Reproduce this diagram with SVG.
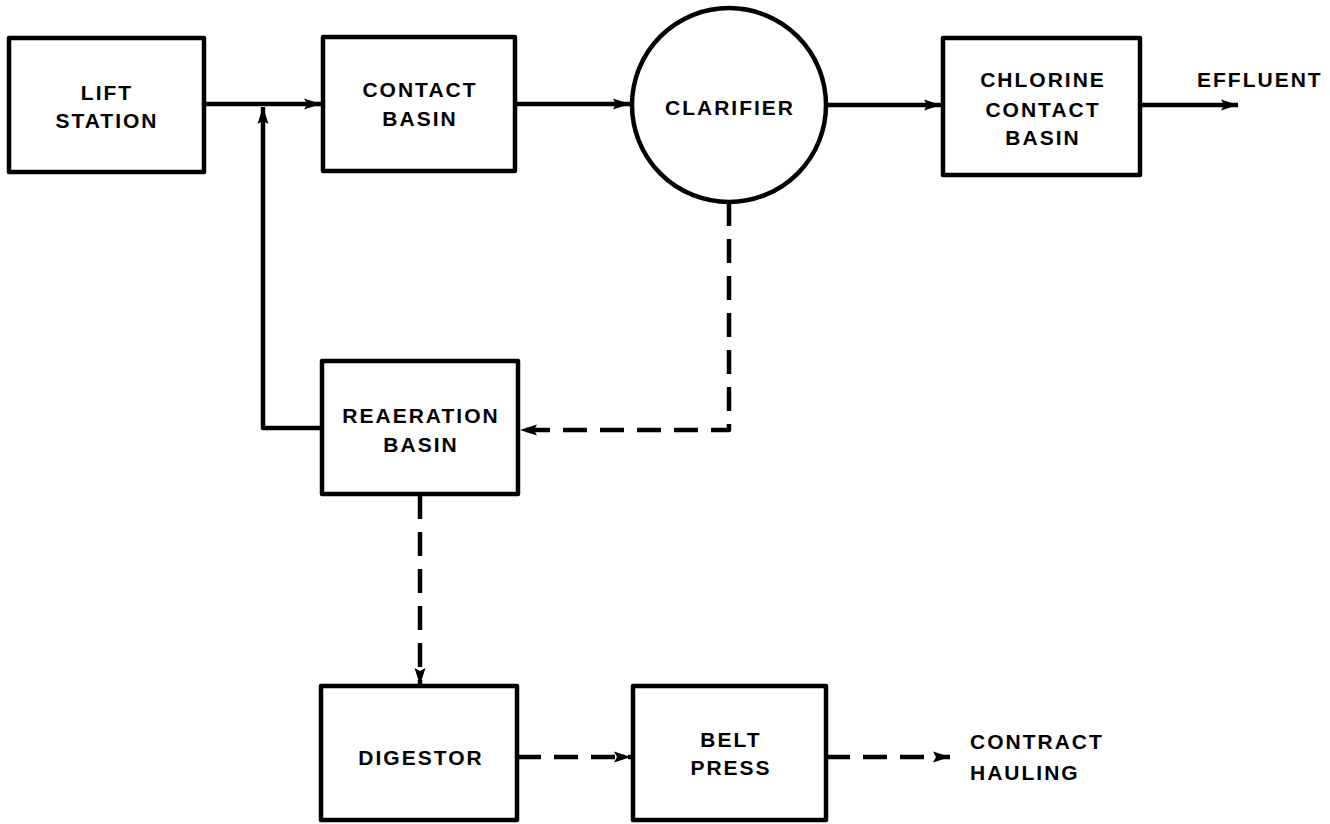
<svg xmlns="http://www.w3.org/2000/svg" width="1330" height="824" viewBox="0 0 1330 824">
<style>
.box{fill:#fff;stroke:#000;stroke-width:4.5;stroke-linejoin:round}
.lbl{font-family:"Liberation Sans",Arial,sans-serif;font-weight:bold;font-size:21px;letter-spacing:2px;fill:#000}
.c{text-anchor:middle}
.ln{fill:none;stroke:#000;stroke-width:4.5;stroke-linejoin:round}
.dash{stroke-dasharray:24 13}
</style>
<defs>
<marker id="ah" markerUnits="userSpaceOnUse" markerWidth="18" markerHeight="12" refX="17" refY="6" orient="auto">
<path d="M0,0.5 L17,6 L0,11.5 L3,6 z" fill="#000"/>
</marker>
</defs>
<rect width="1330" height="824" fill="#fff"/>
<g id="connectors">
<line class="ln" x1="204" y1="104" x2="321" y2="104" marker-end="url(#ah)"/>
<line class="ln" x1="515" y1="104" x2="630" y2="104" marker-end="url(#ah)"/>
<line class="ln" x1="826" y1="105" x2="941" y2="105" marker-end="url(#ah)"/>
<line class="ln" x1="1140" y1="105" x2="1238" y2="105" marker-end="url(#ah)"/>
<path class="ln" d="M322,428 H263 V107" marker-end="url(#ah)"/>
<path class="ln dash" d="M729,202 V430 H520" marker-end="url(#ah)"/>
<path class="ln dash" d="M420,495 V685" marker-end="url(#ah)"/>
<path class="ln dash" d="M517,757 H631" marker-end="url(#ah)"/>
<path class="ln dash" d="M826,757 H950" marker-end="url(#ah)"/>
</g>
<g id="lift-station">
<rect class="box" x="9" y="38" width="195" height="134"/>
<text class="lbl c" x="107" y="100">LIFT</text>
<text class="lbl c" x="107" y="128">STATION</text>
</g>
<g id="contact-basin">
<rect class="box" x="323" y="37" width="192" height="134"/>
<text class="lbl c" x="420" y="97">CONTACT</text>
<text class="lbl c" x="420" y="126">BASIN</text>
</g>
<g id="clarifier">
<circle class="box" cx="729" cy="105" r="97"/>
<text class="lbl c" x="730" y="115">CLARIFIER</text>
</g>
<g id="chlorine-contact-basin">
<rect class="box" x="943" y="38" width="197" height="137"/>
<text class="lbl c" x="1043" y="87">CHLORINE</text>
<text class="lbl c" x="1043" y="117">CONTACT</text>
<text class="lbl c" x="1043" y="145">BASIN</text>
</g>
<g id="effluent">
<text class="lbl" x="1197" y="87">EFFLUENT</text>
</g>
<g id="reaeration-basin">
<rect class="box" x="322" y="361" width="196" height="133"/>
<text class="lbl c" x="421" y="423">REAERATION</text>
<text class="lbl c" x="421" y="452">BASIN</text>
</g>
<g id="digestor">
<rect class="box" x="321" y="686" width="196" height="134"/>
<text class="lbl c" x="421" y="765">DIGESTOR</text>
</g>
<g id="belt-press">
<rect class="box" x="633" y="686" width="193" height="134"/>
<text class="lbl c" x="731" y="747">BELT</text>
<text class="lbl c" x="731" y="775">PRESS</text>
</g>
<g id="contract-hauling">
<text class="lbl" x="970" y="749">CONTRACT</text>
<text class="lbl" x="970" y="780">HAULING</text>
</g>
</svg>
